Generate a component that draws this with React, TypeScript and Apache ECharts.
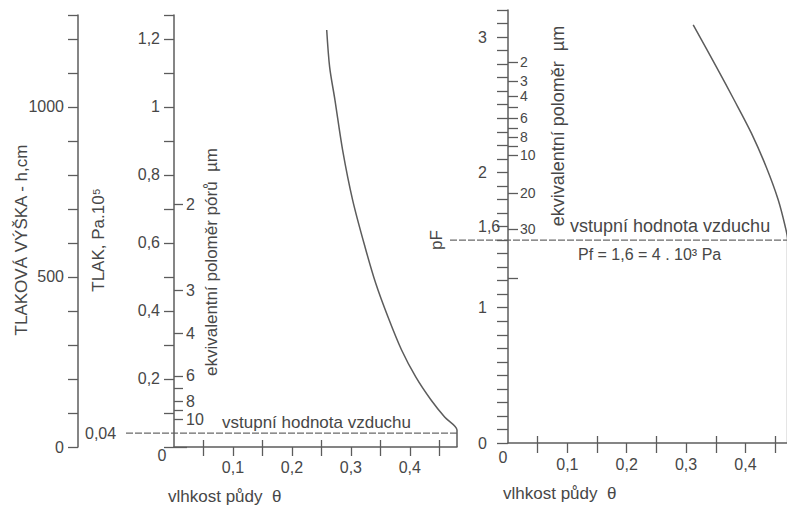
import React, { useEffect, useRef } from 'react';
import * as echarts from 'echarts';

// ---- data ----
// left panel: soil moisture theta vs. pressure (Pa.10^5)
const leftCurveTheta = [0.259, 0.264, 0.273, 0.286, 0.303, 0.324, 0.342, 0.363, 0.386, 0.41, 0.436, 0.459, 0.48, 0.48, 0.48];
const leftCurvePressure = [1.226, 1.117, 1.02, 0.873, 0.726, 0.588, 0.482, 0.382, 0.285, 0.206, 0.138, 0.088, 0.05, 0.041, 0];
// right panel: soil moisture theta vs. pF
const rightCurveTheta = [0.312, 0.351, 0.381, 0.41, 0.435, 0.455, 0.467, 0.471, 0.471];
const rightCurvePF = [3.09, 2.78, 2.535, 2.29, 2.04, 1.8, 1.6, 1.5, 0];

// equivalent pore radius ticks (positions on pressure / pF scales, labels in µm)
const leftPoreTickPressure = [0.714, 0.461, 0.335, 0.209, 0.173, 0.135, 0.109, 0.082];
const leftPoreTickLabels = ['2', '3', '4', '6', '', '8', '', '10'];
const rightPoreTickPF = [2.816, 2.676, 2.565, 2.483, 2.402, 2.328, 2.262, 2.195, 2.128, 1.848, 1.582, 1.22];
const rightPoreTickLabels = ['2', '3', '4', '', '6', '', '8', '', '10', '20', '30', ''];

// axis tick labels
const thetaTickLabels = [0.1, 0.2, 0.3, 0.4];
const thetaTicks = [0.05, 0.1, 0.15, 0.2, 0.25, 0.3, 0.35, 0.4, 0.45];
const thetaCrossTicks = [0.05, 0.15, 0.25, 0.35, 0.45];
const pressureTickLabels = [0.2, 0.4, 0.6, 0.8, 1, 1.2];
const headTickLabels = [0, 500, 1000];
const pFTickLabels = [0, 1, 1.6, 2, 3];

// air entry values
const airEntryPressure = 0.041;
const airEntryPF = 1.5;

const leftThetaMax = 0.48;
const rightThetaMax = 0.47;

const FONT = '"Liberation Sans", Arial, Helvetica, sans-serif';
const TEXT = '#474747';
const LINE = '#5c5c5c';

const comma = (v: number, d = 1) => {
  const s = Number.isInteger(v) ? String(v) : v.toFixed(d);
  return s.replace('.', ',');
};

const lookup = (vals: number[], labels: string[]) => (v: number) => {
  for (let i = 0; i < vals.length; i++) if (Math.abs(vals[i] - v) < 1e-6) return labels[i];
  return '';
};

export default function App() {
  const ref = useRef<HTMLDivElement>(null);

  useEffect(() => {
    if (!ref.current) return;
    const chart = echarts.init(ref.current, null, { renderer: 'svg' });

    const axisLine = { show: true, onZero: false, lineStyle: { color: LINE, width: 1.5 } };
    const tickStyle = { color: LINE, width: 1.3 };
    const labelBase = { color: TEXT, fontFamily: FONT, fontSize: 16 };

    const option: any = {
      animation: false,
      backgroundColor: '#ffffff',
      grid: [
        { left: 174, top: 15, width: 283, height: 432 },
        { left: 508, top: 10, width: 279, height: 433 },
      ],
      xAxis: [
        {
          gridIndex: 0, type: 'value', position: 'bottom', min: 0, max: leftThetaMax,
          axisLine, splitLine: { show: false },
          axisTick: { show: true, length: 9, lineStyle: tickStyle, customValues: thetaTicks },
          axisLabel: { ...labelBase, margin: 12, customValues: thetaTickLabels, formatter: (v: number) => comma(v) },
        },
        {
          gridIndex: 0, type: 'value', position: 'bottom', min: 0, max: leftThetaMax,
          axisLine: { show: false }, splitLine: { show: false }, axisLabel: { show: false },
          axisTick: { show: true, inside: true, length: 7, lineStyle: tickStyle, customValues: thetaCrossTicks },
        },
        {
          gridIndex: 1, type: 'value', position: 'bottom', min: 0, max: rightThetaMax,
          axisLine, splitLine: { show: false },
          axisTick: { show: true, length: 10, lineStyle: tickStyle, customValues: thetaTicks },
          axisLabel: { ...labelBase, margin: 13, customValues: thetaTickLabels, formatter: (v: number) => comma(v) },
        },
        {
          gridIndex: 1, type: 'value', position: 'bottom', min: 0, max: rightThetaMax,
          axisLine: { show: false }, splitLine: { show: false }, axisLabel: { show: false },
          axisTick: { show: true, inside: true, length: 7, lineStyle: tickStyle, customValues: thetaCrossTicks },
        },
      ],
      yAxis: [
        {
          // TLAK, Pa.10^5
          gridIndex: 0, type: 'value', position: 'left', min: 0, max: 1.27, interval: 0.1,
          axisLine, splitLine: { show: false },
          axisTick: { show: true, length: 10, lineStyle: tickStyle },
          axisLabel: { ...labelBase, margin: 14, customValues: pressureTickLabels, formatter: (v: number) => comma(v) },
        },
        {
          // tlaková výška h, cm
          gridIndex: 0, type: 'value', position: 'left', offset: 96, min: 0, max: 1270, interval: 100,
          axisLine, splitLine: { show: false },
          axisTick: { show: true, length: 10, lineStyle: tickStyle },
          axisLabel: { ...labelBase, margin: 14, customValues: headTickLabels, formatter: (v: number) => String(v) },
        },
        {
          gridIndex: 0, type: 'value', position: 'left', offset: 96, min: 0, max: 1270,
          axisLine: { show: false }, splitLine: { show: false }, axisLabel: { show: false },
          axisTick: { show: true, inside: true, length: 13, lineStyle: tickStyle, customValues: [0] },
        },
        {
          // equivalent pore radius (left)
          gridIndex: 0, type: 'value', position: 'left', min: 0, max: 1.27,
          axisLine: { show: false }, splitLine: { show: false },
          axisTick: { show: true, inside: true, length: 9, lineStyle: tickStyle, customValues: leftPoreTickPressure },
          axisLabel: {
            ...labelBase, inside: true, margin: 12, customValues: leftPoreTickPressure,
            formatter: lookup(leftPoreTickPressure, leftPoreTickLabels),
          },
        },
        {
          // pF
          gridIndex: 1, type: 'value', position: 'left', min: 0, max: 3.2, interval: 0.1,
          axisLine, splitLine: { show: false },
          axisTick: { show: true, length: 11, lineStyle: tickStyle },
          axisLabel: { ...labelBase, margin: 30, align: 'left', customValues: pFTickLabels, formatter: (v: number) => comma(v) },
        },
        {
          // equivalent pore radius (right)
          gridIndex: 1, type: 'value', position: 'left', min: 0, max: 3.2,
          axisLine: { show: false }, splitLine: { show: false },
          axisTick: { show: true, inside: true, length: 10, lineStyle: tickStyle, customValues: rightPoreTickPF },
          axisLabel: {
            ...labelBase, fontSize: 14, inside: true, margin: 12, customValues: rightPoreTickPF,
            formatter: lookup(rightPoreTickPF, rightPoreTickLabels),
          },
        },
      ],
      series: [
        {
          type: 'line', xAxisIndex: 0, yAxisIndex: 0, smooth: 0.3, symbol: 'none', clip: false,
          lineStyle: { color: LINE, width: 1.5 },
          data: leftCurveTheta.map((t, i) => [t, leftCurvePressure[i]]),
        },
        {
          type: 'line', xAxisIndex: 2, yAxisIndex: 4, smooth: 0.3, symbol: 'none', clip: true,
          lineStyle: { color: LINE, width: 1.5 },
          data: rightCurveTheta.map((t, i) => [t, rightCurvePF[i]]),
        },
      ],
    };

    chart.setOption(option);

    const px = (si: number, pt: number[]) => chart.convertToPixel({ seriesIndex: si }, pt) as unknown as number[];
    const [lx0, ly0] = px(0, [0, 0]);
    const lyA = px(0, [0, airEntryPressure])[1];
    const lxE = px(0, [leftThetaMax, 0])[0];
    const [rx0, ry0] = px(1, [0, 0]);
    const ryA = px(1, [0, airEntryPF])[1];
    const rxE = px(1, [rightThetaMax, 0])[0];

    const txt = (text: string, x: number, y: number, opts: any = {}) => ({
      type: 'text', x, y, rotation: opts.rotation || 0, silent: true,
      style: {
        text, fill: TEXT, fontFamily: FONT, fontSize: opts.size || 17,
        align: opts.align || 'left', verticalAlign: 'middle',
        textAlign: opts.align || 'left', textVerticalAlign: 'middle',
      },
    });
    const dash = (x1: number, x2: number, y: number) => ({
      type: 'line', silent: true,
      shape: { x1, y1: y, x2, y2: y },
      style: { stroke: '#6a6a6a', lineWidth: 1.2, lineDash: [7, 2] },
    });
    const rot = Math.PI / 2;

    chart.setOption({
      graphic: [
        dash(lx0 - 48, lxE, lyA),
        dash(rx0 - 58, rxE, ryA),
        txt(comma(airEntryPressure, 2), lx0 - 89, lyA, { size: 16 }),
        txt('vstupní hodnota vzduchu', lx0 + 48, lyA - 11, { size: 17 }),
        txt('vstupní hodnota vzduchu', rx0 + 62, ryA - 14, { size: 18 }),
        txt('Pf = 1,6 = 4 . 10³ Pa', rx0 + 70, ryA + 14, { size: 16 }),
        txt('TLAKOVÁ VÝŠKA - h,cm', lx0 - 153, 240, { rotation: rot, align: 'center' }),
        txt('TLAK, Pa.10⁵', lx0 - 76, 240, { rotation: rot, align: 'center' }),
        txt('ekvivalentní poloměr pórů  µm', lx0 + 37, 262, { rotation: rot, align: 'center' }),
        txt('ekvivalentní poloměr  µm', rx0 + 50, 126, { rotation: rot, align: 'center', size: 18 }),
        txt('pF', rx0 - 72, 240, { rotation: rot, align: 'center' }),
        txt('vlhkost půdy  θ', lx0 - 6, ly0 + 49, { size: 17 }),
        txt('vlhkost půdy  θ', rx0 - 5, ry0 + 50, { size: 17 }),
        txt('0', lx0 - 12, ly0 + 8, { size: 16, align: 'center' }),
        txt('0', rx0 - 5, ry0 + 14, { size: 16, align: 'center' }),
      ],
    });

    return () => chart.dispose();
  }, []);

  return (
    <div
      ref={ref}
      style={{ position: 'absolute', left: 0, top: 0, width: 787, height: 508, background: '#fff' }}
    />
  );
}
